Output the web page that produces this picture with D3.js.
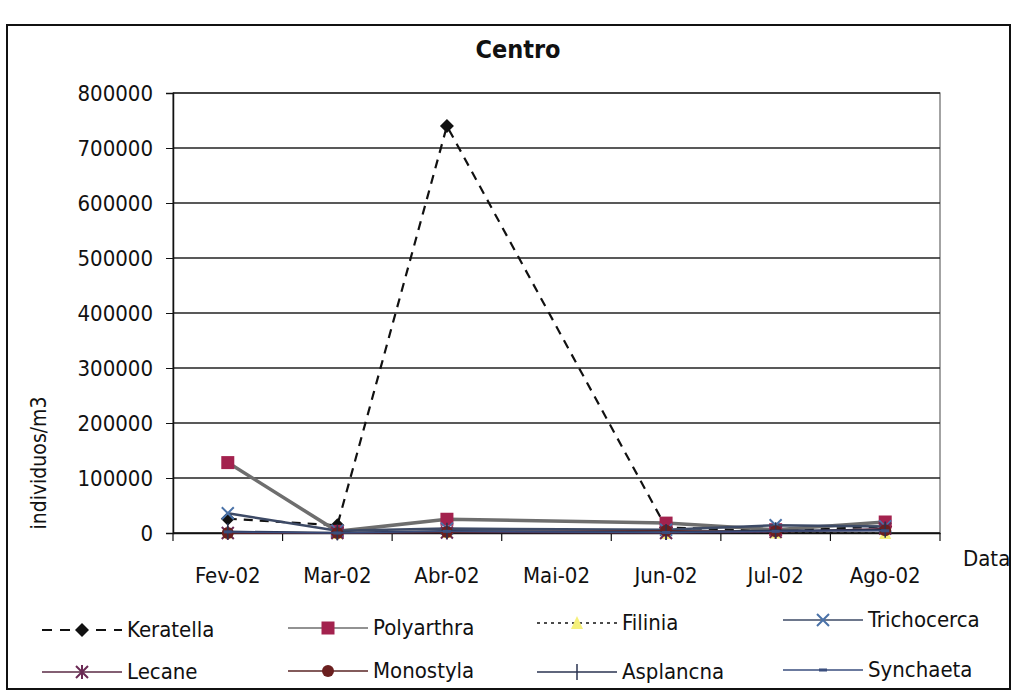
<!DOCTYPE html>
<html>
<head>
<meta charset="utf-8">
<script src="https://cdn.jsdelivr.net/npm/d3@7"></script>
<style>
  body { margin: 0; background: #fff; }
  text { font-family: "DejaVu Sans Condensed", "DejaVu Sans", sans-serif; font-stretch: condensed; fill: #111; }
</style>
</head>
<body>
<svg id="chart"></svg>
<script>
// chart size
var width = 1017;
var height = 696;

// data
var months = ['Fev-02', 'Mar-02', 'Abr-02', 'Mai-02', 'Jun-02', 'Jul-02', 'Ago-02'];
var keratella   = [26000, 14000, 740000, null, 10000, 4000, 12000];
var polyarthra  = [128000, 3000, 25000, null, 18000, 6000, 20000];
var filinia     = [1000, 0, 2000, null, 0, 1000, 0];
var trichocerca = [36000, 4000, 8000, null, 6000, 14000, 12000];
var lecane      = [0, 0, 1000, null, 0, 2000, 8000];
var monostyla   = [0, 0, 2000, null, 4000, 3000, 5000];
var asplancna   = [3000, 1000, 4000, null, 2000, 5000, 6000];
var synchaeta   = [2000, 0, 3000, null, 1000, 3000, 4000];
var yTicks = [0, 100000, 200000, 300000, 400000, 500000, 600000, 700000, 800000];

var series = [
  {name: 'Keratella',   values: keratella,   line: '#111',    width: 2.2, dash: '9,7', marker: 'diamond',  fill: '#111'},
  {name: 'Polyarthra',  values: polyarthra,  line: '#6e6e6e', width: 3.5, dash: null,  marker: 'square',   fill: '#a3224e'},
  {name: 'Filinia',     values: filinia,     line: '#111',    width: 1.5, dash: '3,4', marker: 'triangle', fill: '#f5f07a'},
  {name: 'Trichocerca', values: trichocerca, line: '#3d4a66', width: 2.5, dash: null,  marker: 'cross',    fill: '#4a72a8'},
  {name: 'Lecane',      values: lecane,      line: '#5a2a45', width: 1.5, dash: null,  marker: 'star',     fill: '#6b2a55'},
  {name: 'Monostyla',   values: monostyla,   line: '#5a2525', width: 1.5, dash: null,  marker: 'circle',   fill: '#6b1f1f'},
  {name: 'Asplancna',   values: asplancna,   line: '#2a3350', width: 1.5, dash: null,  marker: 'plus',     fill: '#2a3350'},
  {name: 'Synchaeta',   values: synchaeta,   line: '#3a4e7e', width: 1.5, dash: null,  marker: 'dash',     fill: '#3a4e7e'}
];

var plot = {left: 173, top: 93, right: 940, bottom: 533};
var font = '"DejaVu Sans Condensed", "DejaVu Sans", sans-serif';

var svg = d3.select('#chart')
  .attr('width', width)
  .attr('height', height);

// outer frame
svg.append('rect')
  .attr('x', 7).attr('y', 25)
  .attr('width', 1003).attr('height', 664)
  .attr('fill', '#fff')
  .attr('stroke', '#111')
  .attr('stroke-width', 2);

var x = d3.scaleBand()
  .domain(months)
  .range([plot.left, plot.right]);

var y = d3.scaleLinear()
  .domain([0, 800000])
  .range([plot.bottom, plot.top]);

// plot area border
svg.append('rect')
  .attr('x', plot.left).attr('y', plot.top)
  .attr('width', plot.right - plot.left).attr('height', plot.bottom - plot.top)
  .attr('fill', 'none')
  .attr('stroke', '#666')
  .attr('stroke-width', 1.2);

// gridlines
svg.append('g')
  .selectAll('line')
  .data(yTicks)
  .enter()
  .append('line')
    .attr('x1', plot.left).attr('x2', plot.right)
    .attr('y1', d => y(d)).attr('y2', d => y(d))
    .attr('stroke', '#222')
    .attr('stroke-width', 1.3);

// y axis
var yAxis = svg.append('g')
  .attr('transform', 'translate(' + plot.left + ',0)')
  .call(d3.axisLeft(y).tickValues(yTicks).tickFormat(d3.format('d')).tickSizeOuter(0).tickSize(7).tickPadding(13));
yAxis.select('.domain').attr('stroke', '#111').attr('stroke-width', 1.5);
yAxis.selectAll('.tick line').attr('stroke', '#111');
yAxis.selectAll('.tick text')
  .style('font-size', '22px')
  .style('font-family', font)
  .attr('fill', '#111');

// x axis (ticks between categories)
var xAxis = svg.append('g')
  .attr('transform', 'translate(0,' + plot.bottom + ')')
  .call(d3.axisBottom(x).tickSize(0).tickPadding(34));
xAxis.select('.domain').attr('stroke', '#111').attr('stroke-width', 1.5);
xAxis.selectAll('.tick text')
  .style('font-size', '22px')
  .style('font-family', font)
  .attr('fill', '#111');
xAxis.selectAll('.sep')
  .data(d3.range(months.length + 1))
  .enter()
  .append('line')
    .attr('x1', i => plot.left + i * x.step())
    .attr('x2', i => plot.left + i * x.step())
    .attr('y1', 0).attr('y2', 8)
    .attr('stroke', '#111')
    .attr('stroke-width', 1.2);

// titles
svg.append('text')
  .attr('x', 518).attr('y', 58)
  .attr('text-anchor', 'middle')
  .style('font-size', '25px')
  .style('font-weight', 'bold')
  .text('Centro');

svg.append('text')
  .attr('transform', 'translate(46,463) rotate(-90)')
  .attr('text-anchor', 'middle')
  .style('font-size', '21px')
  .text('individuos/m3');

svg.append('text')
  .attr('x', 963).attr('y', 566)
  .style('font-size', '22px')
  .text('Data');

// marker drawing
function drawMarker(g, type, fill, cx, cy) {
  var m = g.append('g').attr('transform', 'translate(' + cx + ',' + cy + ')');
  if (type === 'diamond') {
    m.append('path').attr('d', 'M0,-7L7,0L0,7L-7,0Z').attr('fill', fill);
  } else if (type === 'square') {
    m.append('rect').attr('x', -6.5).attr('y', -6.5).attr('width', 13).attr('height', 13).attr('fill', fill);
  } else if (type === 'triangle') {
    m.append('path').attr('d', 'M0,-7L6,6L-6,6Z').attr('fill', fill);
  } else if (type === 'circle') {
    m.append('circle').attr('r', 6).attr('fill', fill);
  } else if (type === 'cross') {
    m.append('path').attr('d', 'M-6,-6L6,6M-6,6L6,-6').attr('stroke', fill).attr('stroke-width', 2);
  } else if (type === 'star') {
    m.append('path').attr('d', 'M-6,-6L6,6M-6,6L6,-6M0,-7L0,7').attr('stroke', fill).attr('stroke-width', 2);
  } else if (type === 'plus') {
    m.append('path').attr('d', 'M0,-8L0,8').attr('stroke', fill).attr('stroke-width', 1.5);
  } else if (type === 'dash') {
    m.append('rect').attr('x', -4).attr('y', -1.5).attr('width', 8).attr('height', 3).attr('fill', fill);
  }
}

// series lines and markers
var line = d3.line()
  .x(d => x(d.month) + x.bandwidth() / 2)
  .y(d => y(d.value));

series.forEach(function(s) {
  var pts = months.map((m, i) => ({month: m, value: s.values[i]}))
    .filter(d => d.value !== null);
  var g = svg.append('g');
  g.append('path')
    .datum(pts)
    .attr('d', line)
    .attr('fill', 'none')
    .attr('stroke', s.line)
    .attr('stroke-width', s.width)
    .attr('stroke-dasharray', s.dash);
  pts.forEach(function(d) {
    drawMarker(g, s.marker, s.fill, x(d.month) + x.bandwidth() / 2, y(d.value));
  });
});

// legend
var legendPos = [
  [42, 630], [288, 628], [537, 623], [783, 620],
  [42, 672], [288, 671], [537, 672], [783, 670]
];

series.forEach(function(s, i) {
  var p = legendPos[i];
  var g = svg.append('g');
  g.append('line')
    .attr('x1', p[0]).attr('x2', p[0] + 80)
    .attr('y1', p[1]).attr('y2', p[1])
    .attr('stroke', s.dash ? '#111' : s.line)
    .attr('stroke-width', s.dash === '9,7' ? 2.2 : 1.5)
    .attr('stroke-dasharray', s.dash === '9,7' ? '10,8' : s.dash);
  drawMarker(g, s.marker, s.fill, p[0] + 40, p[1]);
  g.append('text')
    .attr('x', p[0] + 85).attr('y', p[1] + 7)
    .style('font-size', '22px')
    .text(s.name);
});
</script>
</body>
</html>
